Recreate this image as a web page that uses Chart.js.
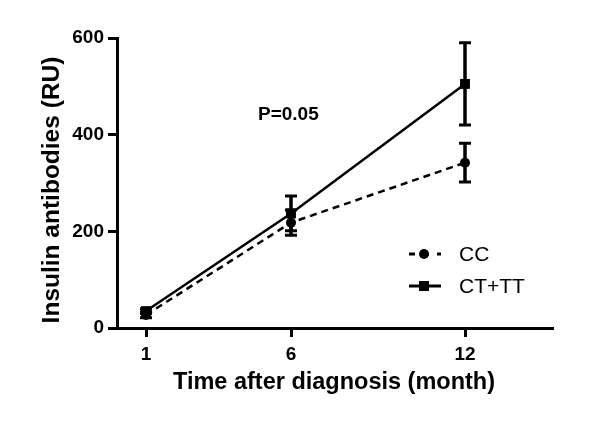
<!DOCTYPE html>
<html>
<head>
<meta charset="utf-8">
<script src="https://cdn.jsdelivr.net/npm/chart.js@4.4.0/dist/chart.umd.min.js"></script>
<style>
  html, body { margin:0; padding:0; background:#fff; }
  #wrap { width:600px; height:439px; }
</style>
</head>
<body>
<div id="wrap"><canvas id="c" width="600" height="439"></canvas></div>
<script>
// data
const months = [1, 6, 12];
const ccMean = [27, 218, 342];
const ccErr = [6, 26, 40];
const ctMean = [35, 237, 505];
const ctErr = [5, 36, 85];
const xTicks = [1, 6, 12];
const yTicks = [0, 200, 400, 600];
const seriesNames = ['CC', 'CT+TT'];
const pLabel = 'P=0.05';
const xTitle = 'Time after diagnosis (month)';
const yTitle = 'Insulin antibodies (RU)';

const FONT = 'Arial, "Liberation Sans", sans-serif';

const toPts = (ys) => months.map((m, i) => ({ x: m, y: ys[i] }));

// error bars drawn through the chart scales
const errorBars = {
  id: 'errorBars',
  afterDatasetsDraw(chart){
    const { ctx, scales:{ x, y } } = chart;
    chart.data.datasets.forEach((ds) => {
      ctx.save();
      ctx.strokeStyle = '#000';
      ds.err.forEach((e, i) => {
        const px = x.getPixelForValue(ds.data[i].x);
        const top = y.getPixelForValue(ds.data[i].y + e);
        const bot = y.getPixelForValue(ds.data[i].y - e);
        ctx.lineWidth = 3.5;
        ctx.beginPath(); ctx.moveTo(px, top); ctx.lineTo(px, bot); ctx.stroke();
        ctx.lineWidth = 3;
        ctx.beginPath();
        ctx.moveTo(px - 6, top); ctx.lineTo(px + 6, top);
        ctx.moveTo(px - 6, bot); ctx.lineTo(px + 6, bot);
        ctx.stroke();
      });
      ctx.restore();
    });
  }
};

// axis titles, legend (line + marker) and the P annotation
const extras = {
  id: 'extras',
  afterDraw(chart){
    const { ctx } = chart;
    ctx.save();
    ctx.fillStyle = '#000';
    ctx.textBaseline = 'middle';
    ctx.textAlign = 'center';

    ctx.font = 'bold 23.5px ' + FONT;
    ctx.fillText(xTitle, 334, 383);

    ctx.save();
    ctx.translate(52, 190);
    ctx.rotate(-Math.PI / 2);
    ctx.font = 'bold 24.5px ' + FONT;
    ctx.fillText(yTitle, 0, 0);
    ctx.restore();

    ctx.textAlign = 'left';
    ctx.font = 'bold 19px ' + FONT;
    ctx.fillText(pLabel, 258, 115);

    const rows = [254, 286];
    chart.data.datasets.forEach((ds, i) => {
      const yy = rows[i];
      ctx.strokeStyle = '#000';
      ctx.lineWidth = 3;
      ctx.setLineDash(ds.borderDash ? [6, 8] : []);
      ctx.beginPath(); ctx.moveTo(409, yy); ctx.lineTo(441, yy); ctx.stroke();
      ctx.setLineDash([]);
      if (ds.pointStyle === 'rect') ctx.fillRect(419, yy - 5, 10, 10);
      else { ctx.beginPath(); ctx.arc(424, yy, 5, 0, Math.PI * 2); ctx.fill(); }
      ctx.font = '21px ' + FONT;
      ctx.fillText(ds.label, 459, yy + 1);
    });
    ctx.restore();
  }
};

const axisCommon = {
  border: { display:true, color:'#000', width:3 },
  grid: { display:true, drawOnChartArea:false, drawTicks:true, tickLength:9, color:'#000', lineWidth:3 },
  title: { display:false }
};

new Chart(document.getElementById('c'), {
  type:'line',
  data:{
    datasets:[
      { label:seriesNames[0], data:toPts(ccMean), err:ccErr, borderColor:'#000', backgroundColor:'#000',
        borderWidth:2.5, borderDash:[7,5], pointStyle:'circle', pointRadius:5, pointBorderWidth:0, tension:0 },
      { label:seriesNames[1], data:toPts(ctMean), err:ctErr, borderColor:'#000', backgroundColor:'#000',
        borderWidth:2.5, pointStyle:'rect', pointRadius:7, pointBorderWidth:0, tension:0 }
    ]
  },
  options:{
    responsive:false,
    animation:false,
    events:[],
    layout:{ padding:{ top:38, right:48, bottom:44, left:0 } },
    plugins:{ legend:{ display:false }, tooltip:{ enabled:false } },
    scales:{
      x:{
        ...axisCommon,
        type:'linear', min:0, max:15,
        afterBuildTicks(s){ s.ticks = xTicks.map(v => ({ value:v })); },
        afterFit(s){ s.height = 67; },
        ticks:{ color:'#000', font:{ family:FONT, size:19, weight:'bold' }, padding:6 }
      },
      y:{
        ...axisCommon,
        min:0, max:600,
        afterBuildTicks(s){ s.ticks = yTicks.map(v => ({ value:v })); },
        afterFit(s){ s.width = 117; },
        ticks:{ color:'#000', font:{ family:FONT, size:19, weight:'bold' }, padding:4 }
      }
    }
  },
  plugins:[errorBars, extras]
});
</script>
</body>
</html>
